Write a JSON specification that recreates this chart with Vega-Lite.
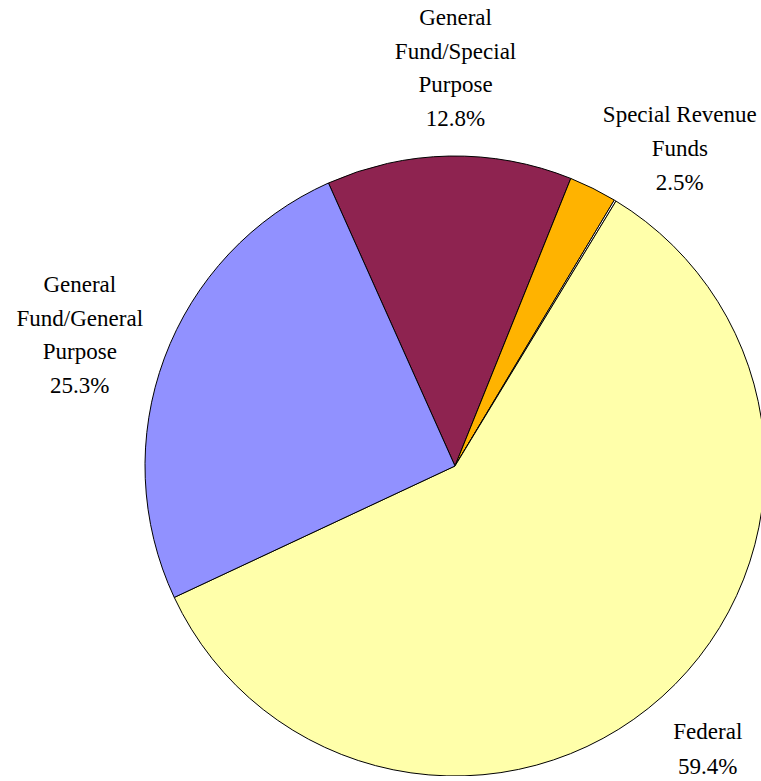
{
  "$schema": "https://vega.github.io/schema/vega-lite/v6.json",
  "width": 620,
  "height": 620,
  "autosize": {"type": "none"},
  "padding": {"left": 145, "top": 156, "right": 0, "bottom": 0},
  "background": "white",
  "config": {"view": {"stroke": null}},
  "data": {
    "values": [
      {"category": "General Fund/Special Purpose", "label": "General\nFund/Special\nPurpose\n12.8%", "pct": 12.8, "rank": 1},
      {"category": "Special Revenue Funds", "label": "Special Revenue\nFunds\n2.5%", "pct": 2.5, "rank": 2},
      {"category": "Other", "label": "", "pct": 0.1, "rank": 3},
      {"category": "Federal", "label": "Federal\n59.4%", "pct": 59.4, "rank": 4},
      {"category": "General Fund/General Purpose", "label": "General\nFund/General\nPurpose\n25.3%", "pct": 25.3, "rank": 5}
    ]
  },
  "encoding": {
    "theta": {"field": "pct", "type": "quantitative", "stack": true, "scale": {"range": [5.8626, 12.1458]}},
    "order": {"field": "rank", "type": "quantitative"}
  },
  "layer": [
    {
      "mark": {"type": "arc", "radius": 310, "stroke": "black", "strokeWidth": 1},
      "encoding": {
        "color": {
          "field": "category",
          "type": "nominal",
          "legend": null,
          "scale": {
            "domain": ["General Fund/Special Purpose", "Special Revenue Funds", "Other", "Federal", "General Fund/General Purpose"],
            "range": ["#8E2350", "#FFB300", "#FFFFFF", "#FFFFAA", "#9191FF"]
          }
        }
      }
    },
    {
      "mark": {"type": "text", "radius": 395, "dx": 8, "dy": -53, "font": "Liberation Serif", "fontSize": 23, "lineHeight": 33.5, "lineBreak": "\n", "align": "center", "baseline": "middle", "color": "black"},
      "encoding": {"text": {"condition": {"test": "datum.rank == 1", "field": "label"}, "value": ""}}
    },
    {
      "mark": {"type": "text", "radius": 395, "dx": 49, "dy": 3, "font": "Liberation Serif", "fontSize": 23, "lineHeight": 34, "lineBreak": "\n", "align": "center", "baseline": "middle", "color": "black"},
      "encoding": {"text": {"condition": {"test": "datum.rank == 2", "field": "label"}, "value": ""}}
    },
    {
      "mark": {"type": "text", "radius": 395, "dx": -11, "dy": -28, "font": "Liberation Serif", "fontSize": 23, "lineHeight": 35, "lineBreak": "\n", "align": "center", "baseline": "middle", "color": "black"},
      "encoding": {"text": {"condition": {"test": "datum.rank == 4", "field": "label"}, "value": ""}}
    },
    {
      "mark": {"type": "text", "radius": 395, "dx": -5, "dy": -43, "font": "Liberation Serif", "fontSize": 23, "lineHeight": 33.5, "lineBreak": "\n", "align": "center", "baseline": "middle", "color": "black"},
      "encoding": {"text": {"condition": {"test": "datum.rank == 5", "field": "label"}, "value": ""}}
    }
  ]
}
